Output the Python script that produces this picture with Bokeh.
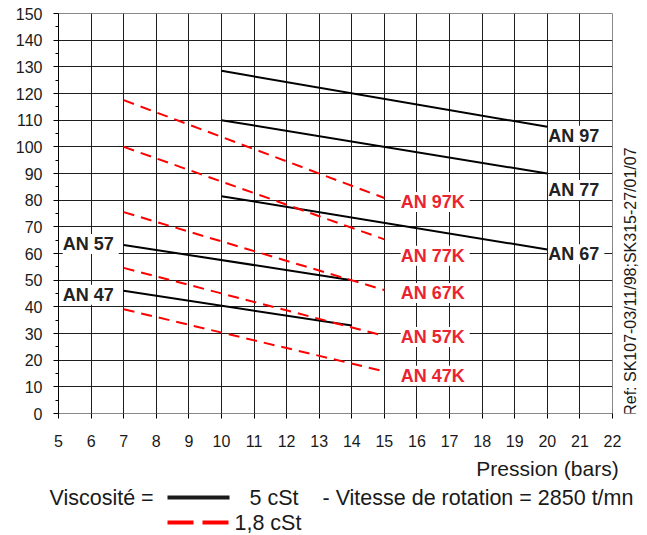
import math
from bokeh.plotting import figure
from bokeh.layouts import column, row
from bokeh.models import ColumnDataSource, LabelSet, FixedTicker, Range1d
from bokeh.core.properties import value
from bokeh.embed import file_html
from bokeh.resources import INLINE

# ---- data ----
x_ticks = list(range(5, 23))
y_ticks = list(range(0, 151, 10))

# 5 cSt (black solid) curves: [x_start, x_end], [y_start, y_end]
black_names = ["AN  97", "AN  77", "AN  67", "AN  57", "AN  47"]
black_x = [[10, 20], [10, 20], [10, 20], [7, 14], [7, 14]]
black_y = [[128.5, 107.5], [110, 90], [81.5, 61.5], [63.2, 50], [46, 33]]
black_lab_x = [20, 20, 20, 5.1, 5.1]
black_lab_y = [104.2, 83.8, 59.7, 63.6, 44.5]

# 1,8 cSt (red dashed) curves
red_names = ["AN  97K", "AN  77K", "AN  67K", "AN  57K", "AN  47K"]
red_x = [[7, 15], [7, 15], [7, 15], [7, 15], [7, 15]]
red_y = [[117.5, 80.8], [100, 65.3], [75.5, 46.3], [54.6, 29.1], [39.1, 15.8]]
red_lab_x = [15.5, 15.5, 15.5, 15.5, 15.5]
red_lab_y = [79.3, 59.2, 45.2, 28.7, 14.2]

x_label = "Pression  (bars)"
legend_title = "Viscosité ="
legend_black = "5 cSt"
legend_red = "1,8 cSt"
legend_extra = "- Vitesse de rotation = 2850 t/mn"
ref_text = "Ref: SK107-03/11/98;SK315-27/01/07"

RED = "#ff0000"
RED_TXT = "#ea2430"
FONT = "Liberation Sans"
TXT = "#1a1a1a"

# ---------------- main chart ----------------
p = figure(width=621, height=455, output_backend="svg", toolbar_location=None,
           x_range=Range1d(5, 22), y_range=Range1d(0, 150),
           min_border_left=58, min_border_right=9, min_border_top=13,
           min_border_bottom=42)
p.background_fill_color = "white"
p.border_fill_color = "white"
p.outline_line_color = "#888888"
p.outline_line_width = 1

p.xaxis.ticker = FixedTicker(ticks=x_ticks)
p.yaxis.ticker = FixedTicker(ticks=y_ticks, minor_ticks=[v + 5 for v in y_ticks[:-1]])
for ax in (p.xaxis[0], p.yaxis[0]):
    ax.major_label_text_font = FONT
    ax.major_label_text_font_size = "16px"
    ax.major_label_text_color = TXT
    ax.major_tick_in = 0
    ax.major_tick_line_color = "black"
    ax.minor_tick_line_color = "black"
p.yaxis.axis_line_color = "black"
p.yaxis.major_tick_out = 5
p.yaxis.minor_tick_out = 3
p.yaxis.minor_tick_in = 0
p.yaxis.major_label_standoff = 11
p.xaxis.axis_line_color = "#888888"
p.xaxis.major_tick_out = 5
p.xaxis.minor_tick_line_color = None
p.xaxis.major_label_standoff = 16

p.xgrid.ticker = FixedTicker(ticks=x_ticks)
p.ygrid.ticker = FixedTicker(ticks=y_ticks)
p.grid.grid_line_color = "#1e1e1e"
p.grid.grid_line_width = 1

p.multi_line(xs=black_x, ys=black_y, line_color="black", line_width=2)
p.multi_line(xs=red_x, ys=red_y, line_color=RED, line_width=2, line_dash="11 7")

bsrc = ColumnDataSource(dict(x=black_lab_x, y=black_lab_y, t=black_names))
rsrc = ColumnDataSource(dict(x=red_lab_x, y=red_lab_y, t=red_names))
p.add_layout(LabelSet(x="x", y="y", text="t", source=bsrc, text_align="left",
                      text_baseline="middle", text_font=value(FONT),
                      text_font_style="bold", text_font_size="18px",
                      text_color="#222222", x_offset=1,
                      background_fill_color="white"))
p.add_layout(LabelSet(x="x", y="y", text="t", source=rsrc, text_align="left",
                      text_baseline="middle", text_font=value(FONT),
                      text_font_style="bold", text_font_size="18px",
                      text_color=RED_TXT,
                      background_fill_color="white"))

# ---------------- vertical reference text ----------------
r = figure(width=18, height=455, output_backend="svg", toolbar_location=None,
           x_range=Range1d(0, 18), y_range=Range1d(455, 0),
           x_axis_location=None, y_axis_location=None,
           min_border=0, min_border_left=0, min_border_right=0,
           min_border_top=0, min_border_bottom=0)
r.grid.visible = False
r.outline_line_color = None
r.background_fill_color = "white"
r.border_fill_color = "white"
r.text(x=[9], y=[305], text=[ref_text], angle=math.pi / 2, text_align="center",
       text_baseline="middle", text_font=value(FONT), text_font_size="16px",
       text_color=TXT)

# ---------------- legend area ----------------
lg = figure(width=639, height=78, output_backend="svg", toolbar_location=None,
            x_range=Range1d(0, 639), y_range=Range1d(78, 0),
            x_axis_location=None, y_axis_location=None,
            min_border=0, min_border_left=0, min_border_right=0,
            min_border_top=0, min_border_bottom=0)
lg.grid.visible = False
lg.outline_line_color = None
lg.background_fill_color = "white"
lg.border_fill_color = "white"

lg.text(x=[624], y=[13], text=[x_label], text_align="right", text_baseline="middle",
        text_font=value(FONT), text_font_size="21px", text_color=TXT)
lg.text(x=[49, 249, 322], y=[42, 42, 42], text=[legend_title, legend_black, legend_extra],
        text_align="left", text_baseline="middle",
        text_font=value(FONT), text_font_size="21.5px", text_color=TXT)
lg.text(x=[234], y=[67], text=[legend_red], text_align="left", text_baseline="middle",
        text_font=value(FONT), text_font_size="21.5px", text_color=TXT)
lg.segment(x0=[167], y0=[42], x1=[229], y1=[42], line_color="#1a1a1a", line_width=4)
lg.segment(x0=[167], y0=[67], x1=[229], y1=[67], line_color=RED, line_width=4,
           line_dash="26 9")

layout = column(row(p, r), lg)
open("out.html", "w").write(file_html(layout, INLINE))
